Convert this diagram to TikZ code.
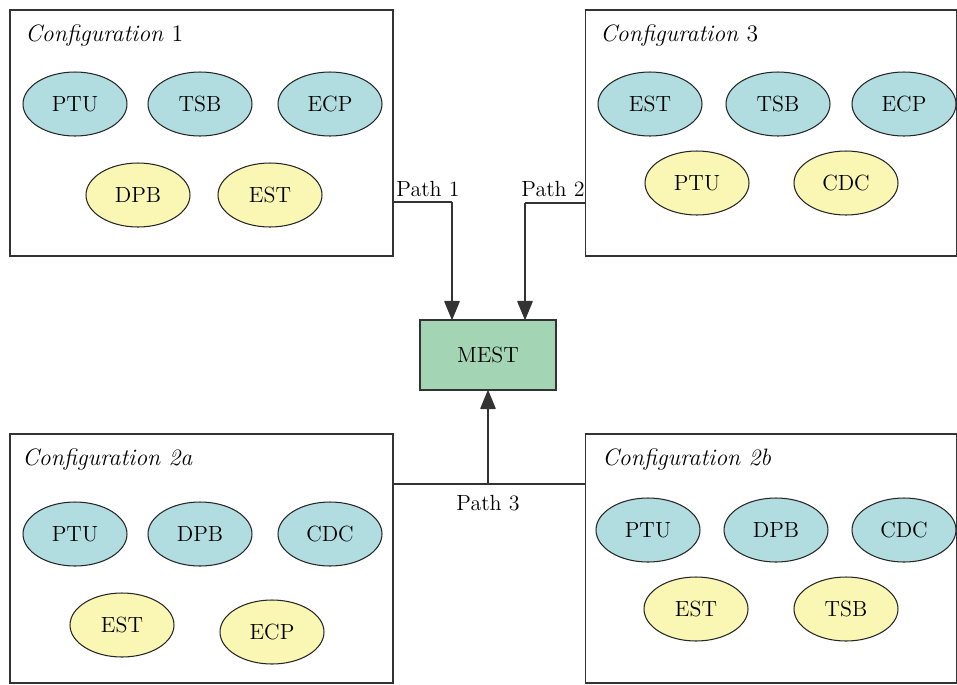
\documentclass[tikz,border=0pt]{standalone}
\usepackage{xcolor}
\usepackage{tikz}
\usetikzlibrary{positioning, calc, shapes.geometric, arrows.meta}

\definecolor{CellBlue}{HTML}{B1DDE0}
\definecolor{CellYellow}{HTML}{FAF6B4}
\definecolor{CellGreen}{HTML}{A3D5B5}

\begin{document}
\begin{tikzpicture}[x=0.02cm, y=-0.02cm, font=\fontsize{12.5}{14}\selectfont,
					ConfBox/.style={rectangle, draw=black!80, line width=0.7pt, inner sep=0pt},
					ConfTitle/.style={anchor=west, inner sep=0pt, font=\fontsize{13.5}{15}\selectfont},
					BlueUnit/.style={ellipse, draw=black!85, line width=0.6pt, fill=CellBlue, minimum width=2.08cm, minimum height=1.28cm},
					YellowUnit/.style={ellipse, draw=black!85, line width=0.6pt, fill=CellYellow, minimum width=2.08cm, minimum height=1.28cm},
					PathLine/.style={draw=black!80, line width=0.6pt},
					PathArrow/.style={PathLine, -{Triangle[width=9pt, length=11pt, round]}}]

				\useasboundingbox (0,0) rectangle (957,684);

				% Boxes
				\node[ConfBox, minimum width=7.66cm, minimum height=4.92cm] (ConfOne) at (201.5,133) {};
				\node[ConfBox, minimum width=7.42cm, minimum height=4.92cm] (ConfThree) at (771,133) {};
				\node[ConfBox, minimum width=7.66cm, minimum height=4.98cm] (ConfTwoA) at (201.5,558.5) {};
				\node[ConfBox, minimum width=7.42cm, minimum height=4.98cm] (ConfTwoB) at (771,558.5) {};

				% Titles
				\node[ConfTitle] (TitleOne) at (25,36) {\textit{Configuration} 1};
				\node[ConfTitle] (TitleThree) at (600,36) {\textit{Configuration} 3};
				\node[ConfTitle] (TitleTwoA) at (22,460) {\textit{Configuration 2a}};
				\node[ConfTitle] (TitleTwoB) at (602,460) {\textit{Configuration 2b}};

				% Configuration 1
				\node[BlueUnit] (OnePTU) at (75,104) {PTU};
				\node[BlueUnit] (OneTSB) at (200,104) {TSB};
				\node[BlueUnit] (OneECP) at (330,104) {ECP};
				\node[YellowUnit] (OneDPB) at (138,195) {DPB};
				\node[YellowUnit] (OneEST) at (270,195) {EST};

				% Configuration 3
				\node[BlueUnit] (ThreeEST) at (650,104) {EST};
				\node[BlueUnit] (ThreeTSB) at (778,104) {TSB};
				\node[BlueUnit] (ThreeECP) at (904,104) {ECP};
				\node[YellowUnit] (ThreePTU) at (697,183) {PTU};
				\node[YellowUnit] (ThreeCDC) at (846,183) {CDC};

				% Configuration 2a
				\node[BlueUnit] (TwoAPTU) at (75,534) {PTU};
				\node[BlueUnit] (TwoADPB) at (200,534) {DPB};
				\node[BlueUnit] (TwoACDC) at (330,534) {CDC};
				\node[YellowUnit] (TwoAEST) at (122,625) {EST};
				\node[YellowUnit] (TwoAECP) at (272,632) {ECP};

				% Configuration 2b
				\node[BlueUnit] (TwoBPTU) at (648,530) {PTU};
				\node[BlueUnit] (TwoBDPB) at (776,530) {DPB};
				\node[BlueUnit] (TwoBCDC) at (904,530) {CDC};
				\node[YellowUnit] (TwoBEST) at (696,609) {EST};
				\node[YellowUnit] (TwoBTSB) at (846,609) {TSB};

				% MEST
				\node[rectangle, draw=black!80, line width=0.7pt, fill=CellGreen, minimum width=2.72cm, minimum height=1.4cm] (MEST) at (488,355) {MEST};

				% Path labels
				\node (PathOne) at (428,189) {Path 1};
				\node (PathTwo) at (553,189) {Path 2};
				\node (PathThree) at (488,503) {Path 3};
				\coordinate (PathOneCorner) at (452,202);
				\coordinate (PathTwoCorner) at (525,203);
				\coordinate (PathThreeJoint) at (488,484);

				% Lines
				\draw[PathLine] (ConfOne.east |- PathOneCorner) -- (PathOneCorner);
				\draw[PathArrow] (PathOneCorner) -- (PathOneCorner |- MEST.north);
				\draw[PathLine] (ConfThree.west |- PathTwoCorner) -- (PathTwoCorner);
				\draw[PathArrow] (PathTwoCorner) -- (PathTwoCorner |- MEST.north);
				\draw[PathLine] (ConfTwoA.east |- PathThreeJoint) -- (ConfTwoB.west |- PathThreeJoint);
				\draw[PathArrow] (PathThreeJoint) -- (MEST.south);
			\end{tikzpicture}
\end{document}
